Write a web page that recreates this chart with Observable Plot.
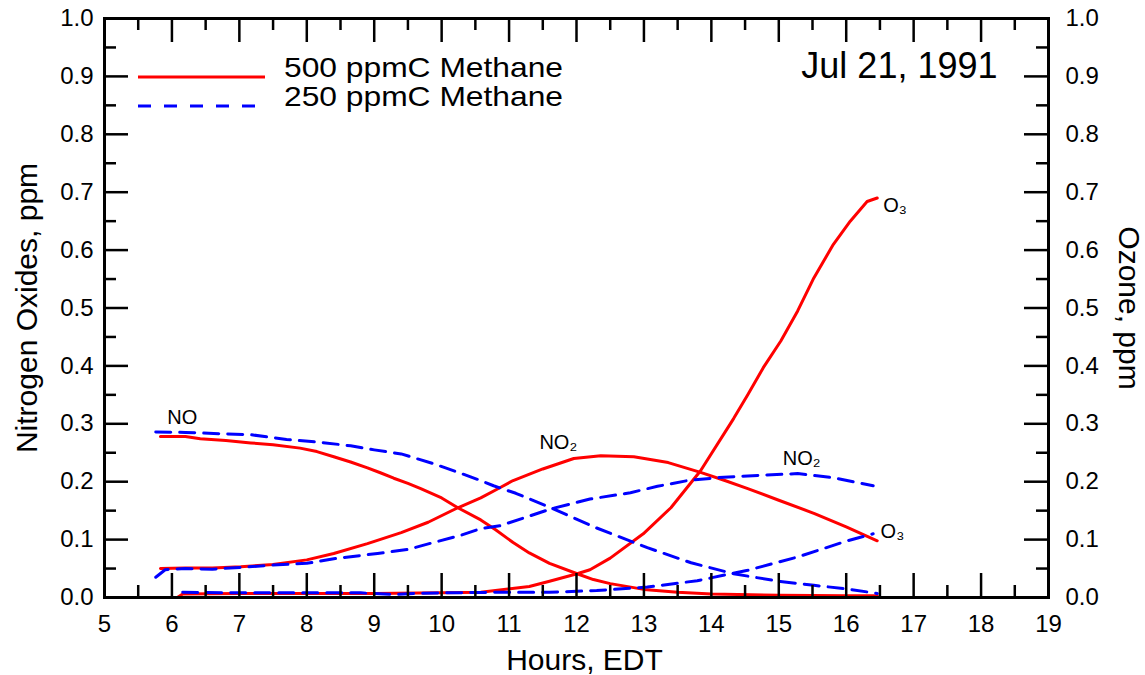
<!DOCTYPE html>
<html>
<head>
<meta charset="utf-8">
<script src="https://cdn.jsdelivr.net/npm/d3@7"></script>
<script src="https://cdn.jsdelivr.net/npm/@observablehq/plot@0.6"></script>
<style>
  html, body { margin: 0; padding: 0; background: #fff; }
  #wrap { position: relative; width: 1145px; height: 675px; font-family: "Liberation Sans", Arial, sans-serif; }
  #legend { position: absolute; left: 0; top: 0; pointer-events: none; }
</style>
</head>
<body>
<div id="wrap"></div>
<script>
// ---- Data (hours EDT, ppm) ----
const runs = ["500 ppmC Methane", "250 ppmC Methane"];
const runColors = ["#ff0000", "#0000ff"];
const xTicks = d3.range(5, 20);
const yTicks = d3.range(0, 11).map(i => i / 10);

const no500 = [[5.83,0.278],[6.2,0.278],[6.42,0.274],[6.8,0.271],[7.17,0.267],[7.5,0.264],[7.9,0.258],[8.15,0.252],[8.4,0.243],[8.65,0.234],[8.9,0.224],[9.1,0.215],[9.29,0.206],[9.5,0.197],[9.69,0.188],[10.0,0.172],[10.24,0.155],[10.58,0.134],[10.8,0.117],[11.06,0.095],[11.3,0.077],[11.6,0.059],[12.01,0.041],[12.25,0.031],[12.5,0.024],[13.0,0.014],[13.5,0.009],[14.0,0.006],[15.0,0.004],[16.0,0.003],[16.46,0.003]];
const no2_500 = [[5.83,0.050],[6.2,0.051],[6.6,0.051],[7.02,0.053],[7.5,0.057],[8.0,0.065],[8.4,0.076],[8.9,0.093],[9.4,0.112],[9.8,0.130],[10.24,0.155],[10.58,0.172],[10.87,0.190],[11.06,0.202],[11.5,0.222],[11.96,0.240],[12.36,0.245],[12.85,0.243],[13.36,0.233],[13.84,0.216],[14.2,0.202],[14.54,0.188],[15.0,0.168],[15.53,0.145],[16.0,0.122],[16.46,0.098]];
const o3_500 = [[6.08,0.000],[6.16,0.006],[7.0,0.007],[8.0,0.007],[9.0,0.007],[10.0,0.008],[10.58,0.009],[11.3,0.019],[11.6,0.028],[12.01,0.041],[12.2,0.048],[12.5,0.068],[12.99,0.110],[13.4,0.155],[13.84,0.219],[14.33,0.309],[14.54,0.350],[14.77,0.397],[15.03,0.443],[15.28,0.495],[15.52,0.552],[15.81,0.610],[16.06,0.650],[16.31,0.684],[16.46,0.690]];

const no250 = [[5.76,0.286],[6.2,0.285],[6.7,0.283],[7.18,0.281],[7.7,0.273],[8.2,0.268],[8.65,0.262],[9.0,0.255],[9.4,0.248],[9.88,0.231],[10.2,0.218],[10.58,0.202],[10.77,0.193],[11.1,0.180],[11.62,0.155],[12.3,0.120],[13.05,0.086],[13.7,0.060],[14.33,0.041],[15.0,0.028],[15.52,0.021],[16.0,0.015],[16.46,0.007]];
const no2_250 = [[5.76,0.035],[5.9,0.048],[6.2,0.050],[6.6,0.049],[7.02,0.052],[7.5,0.056],[8.0,0.059],[8.4,0.067],[9.05,0.076],[9.5,0.083],[9.88,0.095],[10.3,0.108],[10.58,0.119],[10.87,0.124],[11.62,0.153],[12.2,0.170],[12.8,0.181],[13.2,0.192],[13.65,0.202],[14.1,0.207],[14.54,0.210],[15.28,0.214],[15.8,0.207],[16.4,0.193]];
const o3_250 = [[6.16,0.009],[7.0,0.008],[8.0,0.008],[8.8,0.008],[9.3,0.005],[9.6,0.007],[10.0,0.008],[10.87,0.009],[11.6,0.009],[12.3,0.012],[13.05,0.018],[13.79,0.029],[14.54,0.047],[15.28,0.070],[16.02,0.098],[16.4,0.110]];

const curveLabels = [
  {text: "NO",  hour: 5.93,  ppm: 0.300},
  {text: "NO₂", hour: 11.45, ppm: 0.257},
  {text: "NO₂", hour: 15.06, ppm: 0.229},
  {text: "O₃",  hour: 16.55, ppm: 0.666},
  {text: "O₃",  hour: 16.51, ppm: 0.102}
];

function rows(arr, run, species) {
  return arr.map(([hour, ppm]) => ({hour, ppm, run, species}));
}
const data500 = [rows(no500, runs[0], "NO"), rows(no2_500, runs[0], "NO2"), rows(o3_500, runs[0], "O3")];
const data250 = [rows(no250, runs[1], "NO"), rows(no2_250, runs[1], "NO2"), rows(o3_250, runs[1], "O3")];

const W = 1145, H = 675, mL = 104, mR = 97, mT = 18, mB = 78;
const frameW = W - mL - mR, frameH = H - mT - mB;
const majorLen = 24, minorLen = 12;
const xMinor = xTicks.slice(0, -1).map(d => d + 0.5);
const yMinor = yTicks.slice(0, -1).map(d => d + 0.05);

const marks = [];
for (const s of data500) marks.push(Plot.line(s, {x: "hour", y: "ppm", stroke: runColors[0], strokeWidth: 3}));
for (const s of data250) marks.push(Plot.line(s, {x: "hour", y: "ppm", stroke: runColors[1], strokeWidth: 3, strokeDasharray: "15,9"}));

// inward ticks
const tk = {stroke: "#000", strokeWidth: 2.5};
marks.push(
  Plot.tickX(xTicks, {x: d => d, insetTop: frameH - majorLen, ...tk}),
  Plot.tickX(xMinor, {x: d => d, insetTop: frameH - minorLen, ...tk}),
  Plot.tickX(xTicks, {x: d => d, insetBottom: frameH - majorLen, ...tk}),
  Plot.tickX(xMinor, {x: d => d, insetBottom: frameH - minorLen, ...tk}),
  Plot.tickY(yTicks, {y: d => d, insetRight: frameW - majorLen, ...tk}),
  Plot.tickY(yMinor, {y: d => d, insetRight: frameW - minorLen, ...tk}),
  Plot.tickY(yTicks, {y: d => d, insetLeft: frameW - majorLen, ...tk}),
  Plot.tickY(yMinor, {y: d => d, insetLeft: frameW - minorLen, ...tk}),
  Plot.frame({stroke: "#000", strokeWidth: 3})
);

// tick labels
marks.push(
  Plot.axisX({ticks: xTicks, tickSize: 0, tickPadding: 17, fontSize: 24, tickFormat: d3.format("d"), label: null}),
  Plot.axisY({anchor: "left", ticks: yTicks, tickSize: 0, tickPadding: 11, fontSize: 24, tickFormat: d3.format(".1f"), label: null}),
  Plot.axisY({anchor: "right", ticks: yTicks, tickSize: 0, tickPadding: 17, fontSize: 24, tickFormat: d3.format(".1f"), label: null})
);

// curve labels
marks.push(Plot.text(curveLabels, {x: "hour", y: "ppm", text: "text", fontSize: 20, textAnchor: "start", lineAnchor: "bottom", fill: "#000"}));

// titles
marks.push(
  Plot.text(["Hours, EDT"], {frameAnchor: "bottom", dx: 8, dy: 63, fontSize: 30, textAnchor: "middle", lineAnchor: "middle"}),
  Plot.text(["Nitrogen Oxides, ppm"], {frameAnchor: "left", dx: -77, rotate: -90, fontSize: 30, textAnchor: "middle", lineAnchor: "middle"}),
  Plot.text(["Ozone, ppm"], {frameAnchor: "right", dx: 80, rotate: 90, fontSize: 30, textAnchor: "middle", lineAnchor: "middle"}),
  Plot.text(["Jul 21, 1991"], {frameAnchor: "top-right", dx: -51, dy: 59, fontSize: 36, textAnchor: "end", lineAnchor: "bottom"})
);

const chart = Plot.plot({
  width: W, height: H,
  marginLeft: mL, marginRight: mR, marginTop: mT, marginBottom: mB,
  x: {domain: [5, 19]},
  y: {domain: [0, 1]},
  style: {fontFamily: "'Liberation Sans', Arial, sans-serif", fontSize: "24px", background: "#fff", color: "#000", overflow: "visible"},
  marks
});
const wrap = document.getElementById("wrap");
wrap.appendChild(chart);

// legend (key) overlay
const ns = "http://www.w3.org/2000/svg";
const leg = document.createElementNS(ns, "svg");
leg.setAttribute("id", "legend");
leg.setAttribute("width", 600);
leg.setAttribute("height", 130);
const legendRows = [
  {label: runs[0], color: runColors[0], dash: null, y: 77},
  {label: runs[1], color: runColors[1], dash: "13,13", y: 106}
];
for (const r of legendRows) {
  const l = document.createElementNS(ns, "line");
  l.setAttribute("x1", 138); l.setAttribute("x2", 265);
  l.setAttribute("y1", r.y); l.setAttribute("y2", r.y);
  l.setAttribute("stroke", r.color); l.setAttribute("stroke-width", 3);
  if (r.dash) l.setAttribute("stroke-dasharray", r.dash);
  leg.appendChild(l);
  const t = document.createElementNS(ns, "text");
  t.setAttribute("x", 284); t.setAttribute("y", r.y);
  t.setAttribute("font-size", 28);
  t.setAttribute("textLength", 279);
  t.setAttribute("lengthAdjust", "spacingAndGlyphs");
  t.setAttribute("font-family", "'Liberation Sans', Arial, sans-serif");
  t.textContent = r.label;
  leg.appendChild(t);
}
wrap.appendChild(leg);
</script>
</body>
</html>
